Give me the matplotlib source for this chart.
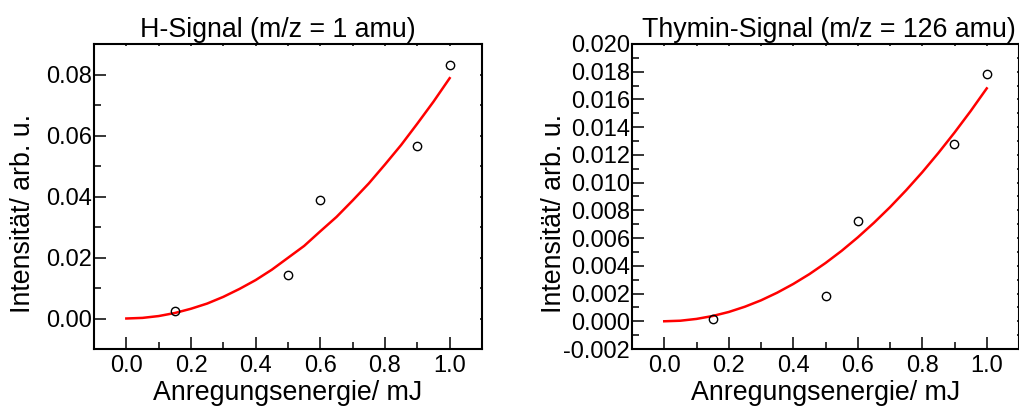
import matplotlib

matplotlib.use("Agg")
import matplotlib.pyplot as plt
from matplotlib.ticker import MultipleLocator, FormatStrFormatter

plt.rcParams["font.family"] = ["Liberation Sans", "DejaVu Sans"]

# measured intensities vs. excitation energy
energy = [0.15, 0.5, 0.6, 0.9, 1.0]
h_signal = [0.0026, 0.0141, 0.0390, 0.0565, 0.0832]
thymin_signal = [0.00014, 0.00185, 0.00724, 0.0128, 0.0178]

# fitted curves (quadratic in pulse energy)
fit_energy = [0.0, 0.05, 0.1, 0.15, 0.2, 0.25, 0.3, 0.35, 0.4, 0.45, 0.5,
              0.55, 0.6, 0.65, 0.7, 0.75, 0.8, 0.85, 0.9, 0.95, 1.0]
h_fit = [0.0, 0.0002, 0.0008, 0.0018, 0.0032, 0.0049, 0.0071, 0.0097, 0.0126, 0.0160, 0.0199,
         0.0238, 0.0286, 0.0333, 0.0387, 0.0443, 0.0505, 0.0569, 0.0639, 0.0711, 0.0788]
thymin_fit = [0.0, 0.00004, 0.00017, 0.00038, 0.00067, 0.00105, 0.00151, 0.00206, 0.00269, 0.0034,
              0.0042, 0.00508, 0.00605, 0.0071, 0.00823, 0.00945, 0.01075, 0.01214, 0.01361,
              0.01516, 0.0168]

TICK_FS = 17
LABEL_FS = 19.3


def _style_axes(ax, ymajor, yminor, yfmt):
    for sp in ax.spines.values():
        sp.set_linewidth(1.5)
    ax.xaxis.set_major_locator(MultipleLocator(0.2))
    ax.xaxis.set_minor_locator(MultipleLocator(0.1))
    ax.xaxis.set_major_formatter(FormatStrFormatter("%.1f"))
    ax.yaxis.set_major_locator(MultipleLocator(ymajor))
    ax.yaxis.set_minor_locator(MultipleLocator(yminor))
    ax.yaxis.set_major_formatter(FormatStrFormatter(yfmt))
    ax.tick_params(which="both", direction="in", width=1.1, labelsize=TICK_FS,
                   top=True, right=True)
    ax.tick_params(which="major", length=8.5)
    ax.tick_params(which="minor", length=4.7)
    ax.tick_params(axis="x", pad=4)
    ax.tick_params(axis="y", pad=1.5)
    for t in ax.xaxis.get_major_ticks() + ax.xaxis.get_minor_ticks():
        t.tick2line.set_markersize(1.2)
    for t in ax.yaxis.get_major_ticks() + ax.yaxis.get_minor_ticks():
        t.tick2line.set_markersize(1.2)
    ax.set_xlim(-0.1, 1.1)


def _draw(ax, y, yfit):
    ax.plot(fit_energy, yfit, color="#ff0000", lw=1.8, zorder=2)
    ax.plot(energy, y, "o", mfc="none", mec="black", ms=6, mew=1.0, zorder=3)


fig = plt.figure(figsize=(10.2, 4.07), dpi=100)
ax1 = fig.add_axes([94 / 1020, 58 / 407, 388 / 1020, 305 / 407])
ax2 = fig.add_axes([632 / 1020, 58 / 407, 387 / 1020, 305 / 407])

_draw(ax1, h_signal, h_fit)
_style_axes(ax1, 0.02, 0.01, "%.2f")
ax1.set_ylim(-0.01, 0.09)
ax1.set_title("H-Signal (m/z = 1 amu)", fontsize=LABEL_FS, x=0.473, pad=5)

_draw(ax2, thymin_signal, thymin_fit)
_style_axes(ax2, 0.002, 0.001, "%.3f")
ax2.set_ylim(-0.002, 0.020)
ax2.set_title("Thymin-Signal (m/z = 126 amu)", fontsize=LABEL_FS, x=0.509, pad=5)

for ax, ylx in ((ax1, -0.149), (ax2, -0.168)):
    ax.set_xlabel("Anregungsenergie/ mJ", fontsize=LABEL_FS)
    ax.set_ylabel("Intensität/ arb. u.", fontsize=LABEL_FS)
    ax.xaxis.set_label_coords(0.5, -0.102)
    ax.yaxis.set_label_coords(ylx, 0.443)

fig.savefig("out.png", dpi=100)
